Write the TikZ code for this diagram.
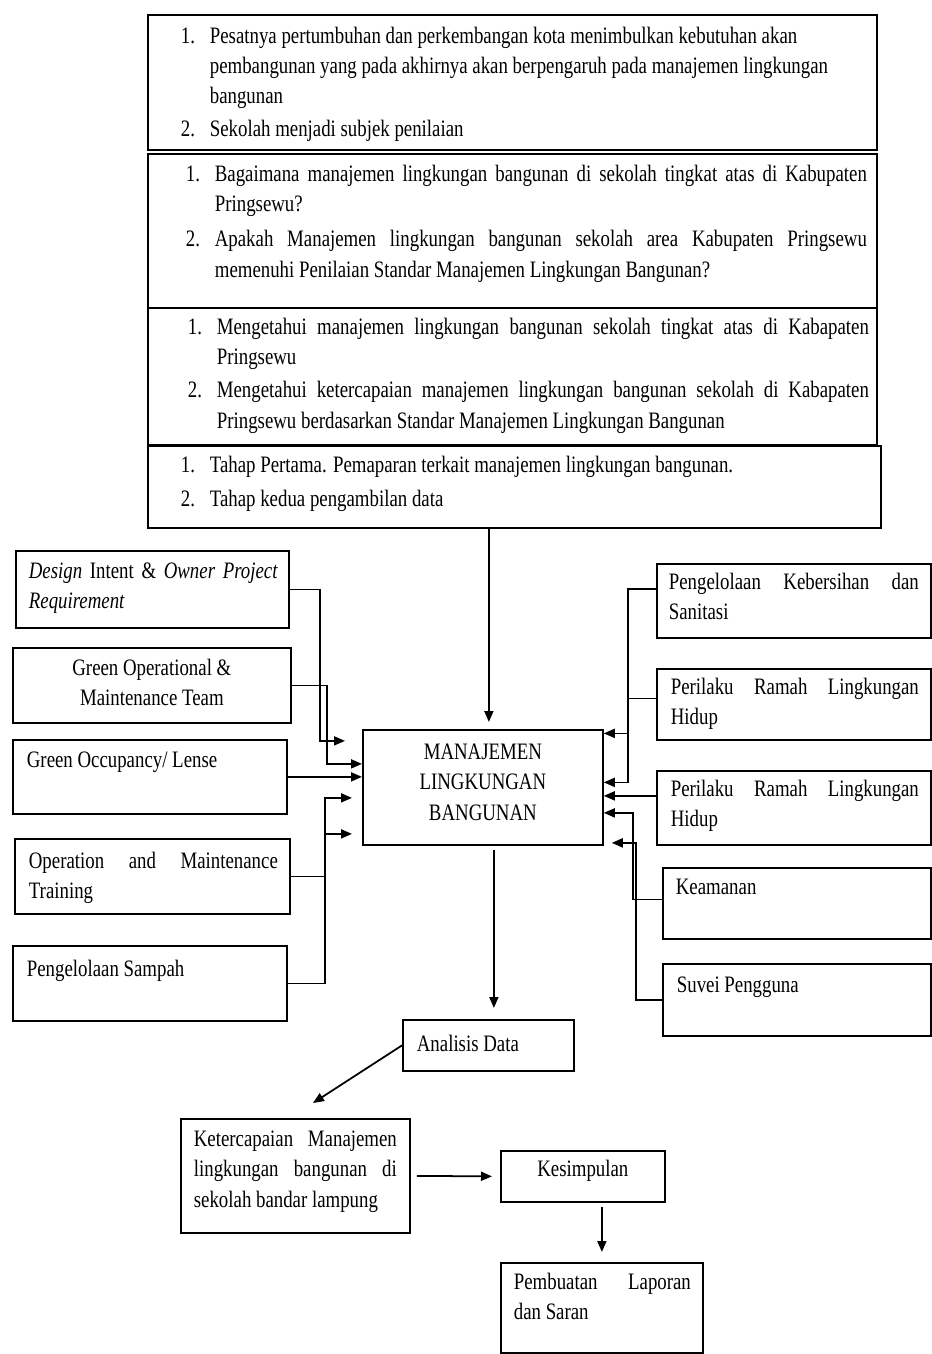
\documentclass[tikz,border=0pt]{standalone}
\usepackage{fontspec}
\setmainfont{Liberation Serif}[FakeStretch=0.8]
\usetikzlibrary{arrows.meta,calc}

% one unit = one pixel of the layout
\newlength{\ux}\setlength{\ux}{0.02cm}
\newlength{\numw}\setlength{\numw}{29\ux}
% width, height, left pad, right pad, top pad, text
\newcommand{\boxtext}[6]{\parbox[c][#2\ux][t]{#1\ux}{\leftskip=#3\ux\rightskip=#4\ux\vspace*{#5\ux}\leavevmode\strut#6}}
\newcommand{\itm}[2]{\leavevmode\strut\hangindent=\numw\hangafter=1\makebox[\numw][l]{#1}#2\par}

\begin{document}
\begin{tikzpicture}[x=0.02cm, y=-0.02cm,
  box/.style={draw, line width=1pt, anchor=north west, inner sep=0pt, font=\fontsize{13.4}{17.1}\selectfont},
  arr/.style={line width=1pt, -{Triangle[length=0.22cm,width=0.18cm]}}]
  \useasboundingbox (0,0) rectangle (931,1354);

  % top blocks
  \node[box] (lat) at (147,14) {\boxtext{729}{135}{33}{10}{8}{%
    \itm{1.}{Pesatnya pertumbuhan dan perkembangan kota menimbulkan kebutuhan akan\\ pembangunan yang pada akhirnya akan berpengaruh pada manajemen lingkungan\\ bangunan}\vspace{2\ux}%
    \itm{2.}{Sekolah menjadi subjek penilaian}}};
  \node[box] (rum) at (147,153) {\boxtext{729}{154}{38}{10}{7}{%
    \itm{1.}{Bagaimana manajemen lingkungan bangunan di sekolah tingkat atas di Kabupaten\linebreak Pringsewu?}\vspace{5\ux}%
    \itm{2.}{Apakah Manajemen lingkungan bangunan sekolah area Kabupaten Pringsewu\linebreak memenuhi Penilaian Standar Manajemen Lingkungan Bangunan?}}};
  \node[box] (tuj) at (147,307) {\boxtext{729}{137}{40}{8}{6}{%
    \itm{1.}{Mengetahui manajemen lingkungan bangunan sekolah tingkat atas di Kabapaten\linebreak Pringsewu}\vspace{3\ux}%
    \itm{2.}{Mengetahui ketercapaian manajemen lingkungan bangunan sekolah di Kabapaten\linebreak Pringsewu berdasarkan Standar Manajemen Lingkungan Bangunan}}};
  \node[box] (tah) at (147,445) {\boxtext{733}{82}{33}{10}{6}{%
    \itm{1.}{Tahap Pertama. Pemaparan terkait manajemen lingkungan bangunan.}\vspace{4\ux}%
    \itm{2.}{Tahap kedua pengambilan data}}};

  % left column
  \node[box] (dsg) at (15,550) {\boxtext{273}{77}{13}{11}{7}{\textit{Design} Intent \& \textit{Owner Project}\linebreak \textit{Requirement}}};
  \node[box] (gom) at (12,647) {\boxtext{278}{75}{0}{0}{7}{\centering Green Operational \&\\ Maintenance Team}};
  \node[box] (gol) at (12,739) {\boxtext{274}{74}{14}{10}{7}{Green Occupancy/ Lense}};
  \node[box] (omt) at (14,838) {\boxtext{275}{75}{14}{12}{9}{Operation and Maintenance\linebreak Training}};
  \node[box] (sam) at (12,945) {\boxtext{274}{75}{14}{10}{10}{Pengelolaan Sampah}};

  % centre
  \node[box] (man) at (362,729) {\boxtext{240}{115}{0}{0}{9}{\centering MANAJEMEN\\ LINGKUNGAN\\ BANGUNAN}};

  % right column
  \node[box] (keb) at (656,563) {\boxtext{274}{74}{12}{12}{5}{Pengelolaan Kebersihan dan\linebreak Sanitasi}};
  \node[box] (prl1) at (656,668) {\boxtext{274}{71}{14}{12}{5}{Perilaku Ramah Lingkungan\linebreak Hidup}};
  \node[box] (prl2) at (656,770) {\boxtext{274}{74}{14}{12}{5}{Perilaku Ramah Lingkungan\linebreak Hidup}};
  \node[box] (kea) at (662,867) {\boxtext{268}{71}{13}{10}{6}{Keamanan}};
  \node[box] (suv) at (662,963) {\boxtext{268}{72}{14}{10}{8}{Suvei Pengguna}};

  % bottom
  \node[box] (ana) at (402,1019) {\boxtext{171}{51}{14}{10}{11}{Analisis Data}};
  \node[box] (ket) at (180,1118) {\boxtext{229}{114}{13}{13}{7}{Ketercapaian Manajemen\linebreak lingkungan bangunan di\linebreak sekolah bandar lampung}};
  \node[box] (kes) at (500,1150) {\boxtext{164}{51}{0}{0}{5}{\centering Kesimpulan}};
  \node[box] (lap) at (500,1262) {\boxtext{202}{90}{13}{12}{6}{Pembuatan Laporan\linebreak dan Saran}};
  \coordinate (ketin) at (313,1103);

  % inputs from the left
  \draw[arr, shorten >=0.34cm] (dsg.east) -- ++(30,0) |- ($(man.west)+(0,-46.5)$);
  \draw[arr] (gom.east) -- ++(35,0) |- ($(man.west)+(0,-23.5)$);
  \draw[arr] (gol.east) -- (gol.east -| man.west);
  \draw[arr, shorten >=0.2cm] (omt.east) -- ++(34,0) |- ($(man.west)+(0,46.5)$);
  \draw[arr, shorten >=0.2cm] (sam.east) -- ++(37,0) |- ($(man.west)+(0,10.5)$);

  % inputs from the right
  \draw[arr] ($(keb.west)+(0,-12)$) -- ++(-28,0) |- ($(man.east)+(0,-54)$);
  \draw[arr] ($(prl1.west)+(0,-6)$) -- ++(-28,0) |- ($(man.east)+(0,-5)$);
  \draw[arr] ($(prl2.west)+(0,-12)$) -- ($(man.east)+(0,8.5)$);
  \draw[arr] ($(kea.west)+(0,-4)$) -- ++(-29,0) |- ($(man.east)+(0,25.5)$);
  \draw[arr, shorten >=0.16cm] (suv.west) -- ++(-26,0) |- ($(man.east)+(0,55.5)$);

  % main flow
  \draw[arr, shorten >=0.14cm] ($(man.north |- tah.south)+(6,0)$) -- ($(man.north)+(6,0)$);
  \draw[arr, shorten <=0.08cm, shorten >=0.22cm] ($(man.south)+(11,0)$) -- ($(man.south |- ana.north)+(11,0)$);
  \draw[arr] (ana.west) -- (ketin);
  \draw[arr, shorten <=0.12cm, shorten >=0.16cm] (ket.east) -- (kes.west);
  \draw[arr, shorten <=0.08cm, shorten >=0.2cm] (lap.north |- kes.south) -- (lap.north);
\end{tikzpicture}
\end{document}
